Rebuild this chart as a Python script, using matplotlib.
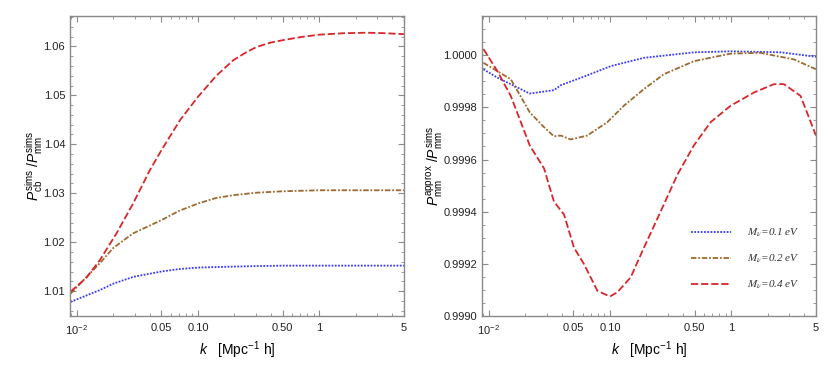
import matplotlib
matplotlib.use('Agg')
import matplotlib.pyplot as plt
from matplotlib.ticker import FixedLocator, FixedFormatter, AutoMinorLocator, LogLocator, NullFormatter

plt.rcParams['font.family'] = ['Liberation Sans', 'DejaVu Sans']
plt.rcParams['mathtext.fontset'] = 'custom'
plt.rcParams['mathtext.rm'] = 'Liberation Sans'
plt.rcParams['mathtext.it'] = 'Liberation Sans:italic'

# left panel: P_cb / P_mm
k_left_red = [0.00892, 0.012, 0.0155, 0.0213, 0.0292, 0.0401, 0.05, 0.071, 0.1,
              0.143, 0.196, 0.25, 0.305, 0.4, 0.507, 0.7, 1.0, 1.6, 2.48, 3.5, 5.0]
cb_red = [1.0099, 1.0127, 1.0163, 1.0218, 1.0279, 1.0347, 1.0388, 1.0449, 1.0497,
          1.0541, 1.0572, 1.0588, 1.0599, 1.0608, 1.0613, 1.0619, 1.0624, 1.0627,
          1.0628, 1.0627, 1.0625]
k_left = [0.00892, 0.0155, 0.02, 0.0292, 0.05, 0.07, 0.1, 0.14, 0.196, 0.3, 0.507, 1.0, 5.0]
cb_brown = [1.0095, 1.0157, 1.0188, 1.0218, 1.0245, 1.0264, 1.0279, 1.0290, 1.0296,
            1.0301, 1.0304, 1.0306, 1.0306]
cb_blue = [1.0078, 1.0102, 1.0115, 1.0129, 1.0140, 1.0145, 1.0148, 1.0149, 1.0150,
           1.0151, 1.0152, 1.0152, 1.0152]

# right panel: P_mm approx / P_mm sims
k_r_blue = [0.00904, 0.01178, 0.0218, 0.0345, 0.0393, 0.0611, 0.1013, 0.1906, 0.492, 0.987, 2.57, 5.0]
mm_blue = [0.999946, 0.999914, 0.999853, 0.999866, 0.999885, 0.999918, 0.999958,
           0.999990, 1.000011, 1.000015, 1.000011, 0.999994]
k_r_brown = [0.00904, 0.0152, 0.0218, 0.0286, 0.0345, 0.0393, 0.0474, 0.065, 0.0787,
             0.095, 0.130, 0.1906, 0.278, 0.492, 0.987, 1.74, 3.29, 5.0]
mm_brown = [0.999971, 0.999908, 0.999781, 0.999724, 0.999689, 0.999692, 0.999677,
            0.999692, 0.999718, 0.999743, 0.999806, 0.999870, 0.999927, 0.999977,
            1.000006, 1.000009, 0.999984, 0.999946]
k_r_red = [0.00904, 0.01178, 0.0152, 0.0218, 0.0286, 0.0345, 0.0418, 0.0505, 0.0611,
           0.0787, 0.0893, 0.1, 0.1149, 0.148, 0.1906, 0.262, 0.359, 0.492, 0.676,
           0.987, 1.54, 2.25, 2.72, 3.73, 5.0]
mm_red = [1.000024, 0.999939, 0.999844, 0.999654, 0.999566, 0.999439, 0.999389,
          0.999262, 0.999199, 0.999097, 0.999085, 0.999075, 0.999091, 0.999148,
          0.999262, 0.999401, 0.999541, 0.999654, 0.999743, 0.999806, 0.999857,
          0.999889, 0.999889, 0.999844, 0.999692]

xticks = [0.01, 0.05, 0.1, 0.5, 1, 5]
xticklabels = [r'$10^{-2}$', '0.05', '0.10', '0.50', '1', '5']
labels = [r'$M_\nu$=0.1 eV', r'$M_\nu$=0.2 eV', r'$M_\nu$=0.4 eV']

c_blue = '#3a3aff'
c_brown = '#9c6a30'
c_red = '#d9262a'
ls_blue = (0, (1, 0.8))
ls_brown = (0, (3, 1, 1, 1))
ls_red = (0, (4, 1.6))
frame = '#8a8a8a'

fig = plt.figure(figsize=(8.3, 3.74), dpi=100)
ax1 = fig.add_axes([0.0843, 0.155, 0.4024, 0.802])
ax2 = fig.add_axes([0.5807, 0.155, 0.4024, 0.802])

ax1.plot(k_left, cb_blue, color=c_blue, ls=ls_blue, lw=1.3)
ax1.plot(k_left, cb_brown, color=c_brown, ls=ls_brown, lw=1.3)
ax1.plot(k_left_red, cb_red, color=c_red, ls=ls_red, lw=1.3)
ax1.set_ylim(1.0049, 1.0662)
ax1.yaxis.set_major_locator(FixedLocator([1.01, 1.02, 1.03, 1.04, 1.05, 1.06]))
ax1.yaxis.set_major_formatter(FixedFormatter(['1.01', '1.02', '1.03', '1.04', '1.05', '1.06']))
ax1.yaxis.set_minor_locator(AutoMinorLocator(5))
ax1.set_ylabel(r'$P^{\rm sims}_{\rm cb}\ /P^{\rm sims}_{\rm mm}$', fontsize=10, labelpad=-1)

ax2.plot(k_r_blue, mm_blue, color=c_blue, ls=ls_blue, lw=1.3, label=labels[0])
ax2.plot(k_r_brown, mm_brown, color=c_brown, ls=ls_brown, lw=1.3, label=labels[1])
ax2.plot(k_r_red, mm_red, color=c_red, ls=ls_red, lw=1.3, label=labels[2])
ax2.set_ylim(0.9990, 1.00015)
ax2.yaxis.set_major_locator(FixedLocator([0.9990, 0.9992, 0.9994, 0.9996, 0.9998, 1.0]))
ax2.yaxis.set_major_formatter(FixedFormatter(['0.9990', '0.9992', '0.9994', '0.9996', '0.9998', '1.0000']))
ax2.yaxis.set_minor_locator(AutoMinorLocator(4))
ax2.set_ylabel(r'$P^{\rm approx}_{\rm mm}\ /P^{\rm sims}_{\rm mm}$', fontsize=10, labelpad=-1)

leg = ax2.legend(loc='lower right', bbox_to_anchor=(0.982, 0.05), frameon=False,
                 handlelength=3.6, handletextpad=1.5, labelspacing=1.2,
                 prop=dict(family='Liberation Serif', style='italic', size=8,
                           math_fontfamily='stix'))
for t in leg.get_texts():
    t.set_color('#333333')

for ax in (ax1, ax2):
    ax.set_xscale('log')
    ax.set_xlim(0.0088, 5.0)
    ax.xaxis.set_major_locator(FixedLocator(xticks))
    ax.xaxis.set_major_formatter(FixedFormatter(xticklabels))
    ax.xaxis.set_minor_locator(LogLocator(base=10, subs=range(1, 10)))
    ax.xaxis.set_minor_formatter(NullFormatter())
    ax.set_xlabel(r'$k$   [Mpc$^{-1}$ h]', fontsize=10, labelpad=2)
    for s in ax.spines.values():
        s.set_color(frame)
        s.set_linewidth(1.0)
    ax.tick_params(which='both', direction='in', top=True, right=True, color=frame,
                   labelsize=8, labelcolor='#222222')
    ax.tick_params(which='major', length=4.5, width=0.8)
    ax.tick_params(which='minor', length=2.5, width=0.6)
    ax.tick_params(axis='x', pad=5)

fig.savefig('out.png', dpi=100)
